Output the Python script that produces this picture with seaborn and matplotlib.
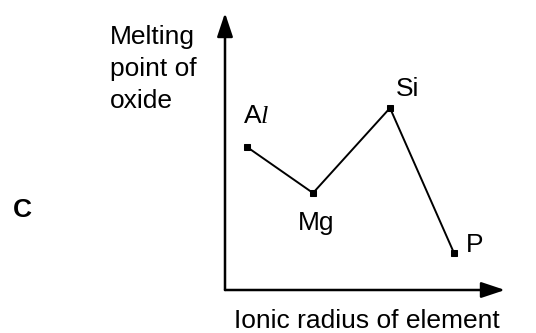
import matplotlib
matplotlib.use("Agg")
import matplotlib.pyplot as plt
import seaborn as sns
import pandas as pd

# === Data (arbitrary units) ===
elements = ["Al", "Mg", "Si", "P"]
ionic_radius = [22, 88, 165, 229]
melting_point = [143, 97, 182, 37]
point_labels = ["A$\\mathit{l}$", "Mg", "Si", "P"]
# label offsets in pixels (left edge / baseline relative to the point)
label_offsets = [(-4, 24), (-15, -37), (6, 12), (12, 1)]

df = pd.DataFrame({"element": elements, "radius": ionic_radius, "mp": melting_point})

sns.set_style("white")
plt.rcParams["font.family"] = ["Liberation Sans", "DejaVu Sans"]
plt.rcParams["text.color"] = "black"
plt.rcParams["mathtext.fontset"] = "custom"
plt.rcParams["mathtext.rm"] = "Liberation Sans"
plt.rcParams["mathtext.it"] = "Liberation Serif:italic"

W, H = 536, 333
fig = plt.figure(figsize=(W / 100, H / 100), dpi=100)
# axes origin at (225, 290) px, arrow tips at x=505 and y=13
ax = fig.add_axes([225 / W, (H - 290) / H, (505 - 225) / W, (290 - 13) / H])
ax.set_xlim(0, 280)
ax.set_ylim(0, 277)
ax.axis("off")

sns.lineplot(data=df, x="radius", y="mp", sort=False, color="black", lw=1.4,
             marker="s", markersize=4.5, markeredgecolor="black", ax=ax)

# === Axes with arrow heads ===
arrow = dict(arrowstyle="-|>,head_length=0.9,head_width=0.3", color="black",
             lw=1.8, shrinkA=0, shrinkB=0, mutation_scale=16)
ax.annotate("", xy=(1, 0), xytext=(0, 0), xycoords="axes fraction",
            arrowprops=arrow, annotation_clip=False)
ax.annotate("", xy=(0, 1), xytext=(0, 0), xycoords="axes fraction",
            arrowprops=arrow, annotation_clip=False)

fs = 19
for lab, x, y, off in zip(point_labels, ionic_radius, melting_point, label_offsets):
    ax.annotate(lab, xy=(x, y), xytext=off, textcoords="offset pixels",
                ha="left", va="baseline", fontsize=fs, color="black")

fig.text(110 / W, 1 - 25 / H, "Melting\npoint of\noxide", ha="left", va="top",
         fontsize=fs, linespacing=1.42, color="black")
fig.text(367 / W, 1 - 328 / H, "Ionic radius of element", ha="center",
         va="baseline", fontsize=fs, color="black")
fig.text(22 / W, 1 - 210 / H, "C", ha="center", va="center", fontsize=fs,
         fontweight="bold", color="black")

fig.savefig("out.png", dpi=100)
